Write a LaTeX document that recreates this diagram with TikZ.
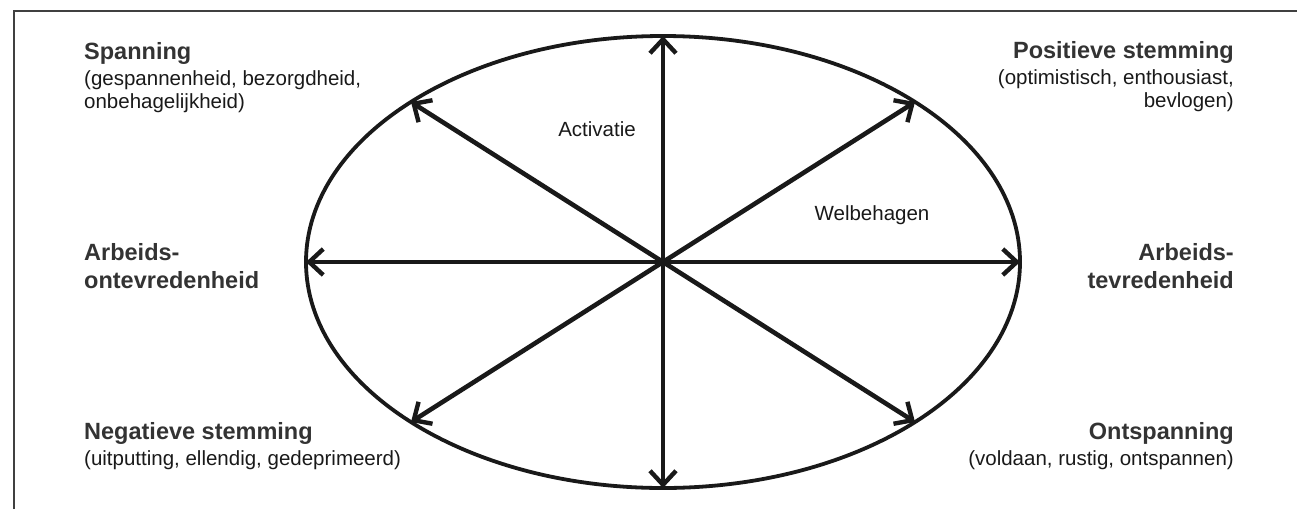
\documentclass[tikz,border=0pt]{standalone}
\usepackage{fontspec}
\setmainfont{Liberation Sans}
\usetikzlibrary{arrows.meta, positioning}

\begin{document}
\begin{tikzpicture}[
    x=1pt, y=-1pt,
    axis/.style={-{Straight Barb[length=14pt, width=26pt, line width=4.4pt]}, line width=4.6pt, black!90},
    title/.style={font=\fontsize{23.5}{28}\selectfont\bfseries, inner sep=0pt, text=black!80},
    desc/.style={font=\fontsize{20.5}{23}\selectfont, inner sep=0pt, text=black!90},
    frame/.style={line width=1.5pt, black!75}
]
\useasboundingbox (0,0) rectangle (1297,509);

% scanned frame, top and left only
\draw[frame] (14,509) -- (14,11) -- (1297,11);

% circumplex
\coordinate (c) at (663,262);
\draw[line width=3.8pt, black!90] (c) ellipse [x radius=357, y radius=226];

\coordinate (n) at (663,36);
\coordinate (s) at (663,488);
\coordinate (w) at (306,262);
\coordinate (e) at (1020,262);
\coordinate (nw) at (411,102);
\coordinate (ne) at (915,102);
\coordinate (sw) at (411,422);
\coordinate (se) at (915,422);

\foreach \dir in {n,s,w,e,nw,ne,sw,se}
    \draw[axis] (c) -- (\dir);

\node[desc] (activatie) at (597,129) {Activatie};
\node[desc] (welbehagen) at (872,215) {Welbehagen};

% corner labels
\node[title, anchor=base west] (spanning) at (84,59) {Spanning};
\node[desc, align=left, below=6pt of spanning.south west, anchor=north west] (spanningtxt) {(gespannenheid, bezorgdheid,\\onbehagelijkheid)};

\node[title, anchor=base east] (positief) at (1234,58) {Positieve stemming};
\node[desc, align=right, below=6pt of positief.south east, anchor=north east] (positieftxt) {(optimistisch, enthousiast,\\bevlogen)};

\node[title, align=left, anchor=north west] (ontevreden) at (84,243) {Arbeids-\\ontevredenheid};
\node[title, align=right, anchor=north east] (tevreden) at (1234,243) {Arbeids-\\tevredenheid};

\node[title, anchor=base west] (negatief) at (84,439) {Negatieve stemming};
\node[desc, below=6pt of negatief.south west, anchor=north west] (negatieftxt) {(uitputting, ellendig, gedeprimeerd)};

\node[title, anchor=base east] (ontspanning) at (1234,439) {Ontspanning};
\node[desc, below=6pt of ontspanning.south east, anchor=north east] (ontspanningtxt) {(voldaan, rustig, ontspannen)};

\end{tikzpicture}
\end{document}
